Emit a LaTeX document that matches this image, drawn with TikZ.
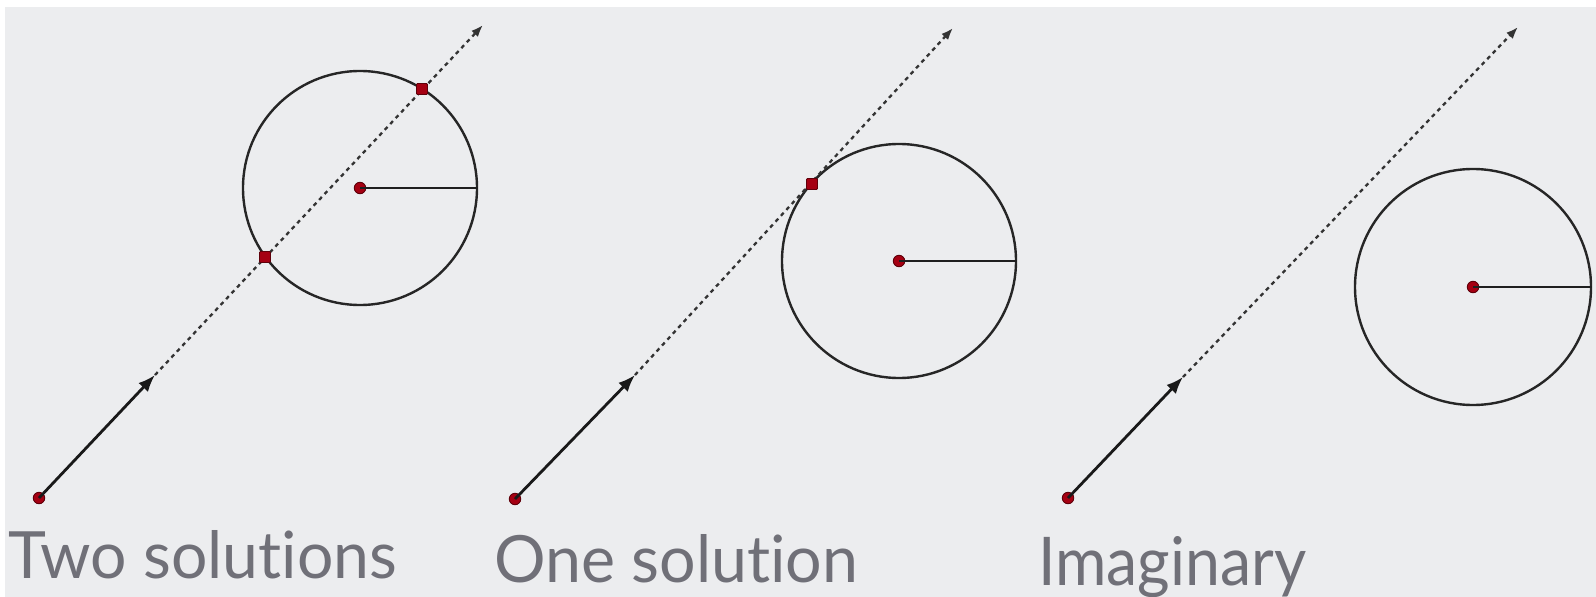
\documentclass[tikz,border=0pt]{standalone}
\usepackage{fontspec}
\setmainfont{Lato}[Ligatures={NoCommon,NoRare,NoContextual}]
\usetikzlibrary{arrows.meta}
\definecolor{bgc}{RGB}{236,237,239}
\definecolor{dotred}{RGB}{165,0,18}
\definecolor{dotline}{RGB}{95,0,10}
\definecolor{txt}{RGB}{112,112,120}
\tikzset{
  rdot/.style={circle, fill=dotred, draw=dotline, line width=0.9pt, minimum size=11.5pt, inner sep=0pt},
  sdot/.style={rectangle, rounded corners=1pt, fill=dotred, draw=dotline, line width=0.9pt, minimum size=11pt, inner sep=0pt},
  ring/.style={circle, draw=black!85, line width=2.4pt, inner sep=0pt},
  radline/.style={draw=black!88, line width=2.5pt},
  vecline/.style={draw=black!90, line width=2.8pt, -{Latex[length=17pt,width=13pt]}},
  rayline/.style={draw=black!80, line width=2.3pt, dash pattern=on 4pt off 4pt, -{Latex[length=12pt,width=9pt]}},
  lbl/.style={anchor=base west, inner sep=0pt, text=txt}
}
\begin{document}
\begin{tikzpicture}[x=1pt,y=-1pt]
\useasboundingbox (0,0) rectangle (1596,597);
\fill[white] (0,0) rectangle (1596,597);
\fill[bgc] (5,7) rectangle (1596,597);

% ---- Panel 1: two solutions
\node[ring, minimum size=234pt] (c1) at (360,188) {};
\coordinate (m1) at (155,375);
\coordinate (e1) at (483,25);
\node[rdot] (s1) at (39,498) {};
\draw[rayline] (m1) -- (e1);
\draw[vecline] (s1.center) -- (m1);
\node[rdot] (o1) at (360,188) {};
\draw[radline] (o1.center) -- (c1.east);
\node[sdot] (p1a) at (422,89) {};
\node[sdot] (p1b) at (265,257) {};

% ---- Panel 2: one solution
\node[ring, minimum size=234pt] (c2) at (899,261) {};
\coordinate (m2) at (635,375);
\coordinate (e2) at (953,28);
\node[rdot] (s2) at (515,499) {};
\draw[rayline] (m2) -- (e2);
\draw[vecline] (s2.center) -- (m2);
\node[rdot] (o2) at (899,261) {};
\draw[radline] (o2.center) -- (c2.east);
\node[sdot] (p2) at (812,184) {};

% ---- Panel 3: imaginary
\node[ring, minimum size=236pt] (c3) at (1473,287) {};
\coordinate (m3) at (1183,377);
\coordinate (e3) at (1518,27);
\node[rdot] (s3) at (1068,498) {};
\draw[rayline] (m3) -- (e3);
\draw[vecline] (s3.center) -- (m3);
\node[rdot] (o3) at (1473,287) {};
\draw[radline] (o3.center) -- (c3.east);

% ---- Labels
\node[lbl] (t1) at (8,578) {\resizebox{389pt}{48pt}{Two solutions}};
\node[lbl] (t2) at (494,582) {\resizebox{364pt}{48pt}{One solution}};
\node[lbl] (t3) at (1038,585) {\resizebox{268pt}{49pt}{Imaginary}};
\end{tikzpicture}
\end{document}
